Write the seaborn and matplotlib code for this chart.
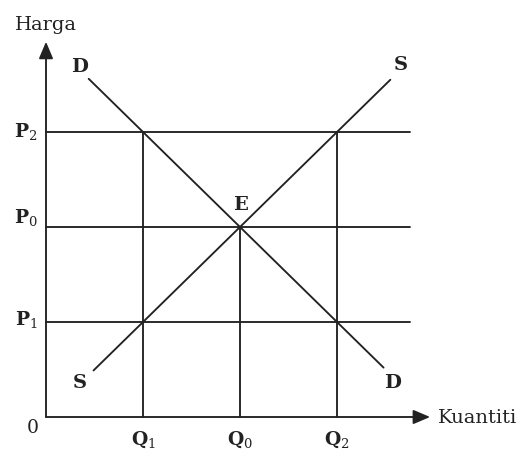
import matplotlib
matplotlib.use("Agg")
import matplotlib.pyplot as plt
import seaborn as sns
import pandas as pd

# ---- data ----
quantity_labels = ["Q1", "Q0", "Q2"]
quantity_values = [1, 2, 3]
quantity_guide_top = [3, 2, 3]          # vertical guides rise to P2, P0, P2
price_labels = ["P1", "P0", "P2"]
price_values = [1, 2, 3]
price_guide_end = 3.75                  # horizontal guides extend to here
demand_x = [0.44, 3.48]
demand_y = [3.56, 0.52]
supply_x = [0.49, 3.55]
supply_y = [0.49, 3.55]
axis_end_x = 3.96
axis_end_y = 3.95
x_axis_title = "Kuantiti"
y_axis_title = "Harga"
origin_label = "0"
equilibrium_label = "E"

sns.set_theme(style="white")
plt.rcParams["font.family"] = ["DejaVu Serif"]
plt.rcParams["mathtext.fontset"] = "custom"
plt.rcParams["mathtext.rm"] = "DejaVu Serif"
plt.rcParams["mathtext.bf"] = "DejaVu Serif:bold"
plt.rcParams["mathtext.it"] = "DejaVu Serif:italic"

INK = "#222222"
LW = 1.35

fig = plt.figure(figsize=(5.29, 4.54), dpi=100, facecolor="white")
ax = fig.add_axes([0, 0, 1, 1])
ax.set_xlim(-46 / 97, (529 - 46) / 97)
ax.set_ylim(-(454 - 417) / 95, 417 / 95)
ax.axis("off")

# guide lines
for q, top in zip(quantity_values, quantity_guide_top):
    sns.lineplot(x=[q, q], y=[0, top], ax=ax, color=INK, lw=LW,
                 estimator=None, sort=False)
for p in price_values:
    sns.lineplot(x=[0, price_guide_end], y=[p, p], ax=ax, color=INK, lw=LW,
                 estimator=None, sort=False)

# demand and supply
sns.lineplot(x=demand_x, y=demand_y, ax=ax, color=INK, lw=LW,
             estimator=None, sort=False)
sns.lineplot(x=supply_x, y=supply_y, ax=ax, color=INK, lw=LW,
             estimator=None, sort=False)

# axes with arrow heads
arrow = dict(arrowstyle="-|>,head_length=0.85,head_width=0.36",
             color=INK, lw=LW, shrinkA=0, shrinkB=0, mutation_scale=12)
ax.annotate("", xy=(axis_end_x, 0), xytext=(0, 0), arrowprops=arrow)
ax.annotate("", xy=(0, axis_end_y), xytext=(0, 0), arrowprops=arrow)

txt = dict(color=INK)
ax.text(-0.32, 4.13, y_axis_title, ha="left", va="center", fontsize=14, **txt)
ax.text(4.04, -0.063, x_axis_title, ha="left", va="baseline", fontsize=14, **txt)
ax.text(-0.134, -0.168, origin_label, ha="center", va="baseline", fontsize=13.5, **txt)

# Q labels
for lab, q in zip(quantity_labels, quantity_values):
    ax.text(q, -0.295, r"$\mathbf{%s}_{\mathrm{%s}}$" % (lab[0], lab[1]),
            ha="center", va="baseline", fontsize=13.5, **txt)
# P labels
p_offsets = [-0.032, 0.042, -0.053]
for lab, p, off in zip(price_labels, price_values, p_offsets):
    ax.text(-0.206, p + off, r"$\mathbf{%s}_{\mathrm{%s}}$" % (lab[0], lab[1]),
            ha="center", va="baseline", fontsize=13.5, **txt)

# curve labels
ax.text(demand_x[0] - 0.09, 3.63, "D", ha="center", va="baseline",
        fontsize=14, fontweight="bold", **txt)
ax.text(supply_x[1] + 0.11, 3.65, "S", ha="center", va="baseline",
        fontsize=14, fontweight="bold", **txt)
ax.text(supply_x[0] - 0.14, 0.305, "S", ha="center", va="baseline",
        fontsize=14, fontweight="bold", **txt)
ax.text(demand_x[1] + 0.09, 0.305, "D", ha="center", va="baseline",
        fontsize=14, fontweight="bold", **txt)
ax.text(2.0, 2.18, equilibrium_label, ha="center", va="baseline",
        fontsize=14, fontweight="bold", **txt)

fig.savefig("out.png", dpi=100, facecolor="white")
